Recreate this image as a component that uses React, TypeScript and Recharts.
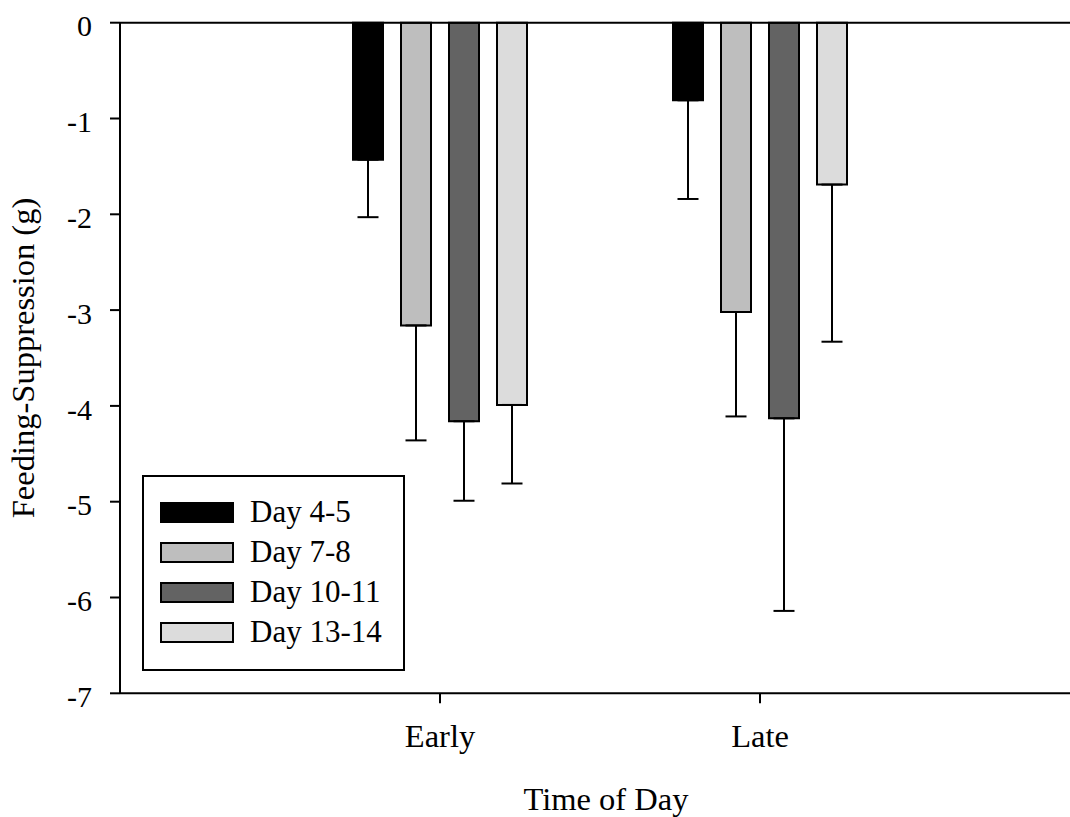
import React from 'react'
import { Bar, BarChart, ErrorBar, Legend, ReferenceLine, XAxis, YAxis } from 'recharts'

const FONT = '"Liberation Serif", "Times New Roman", serif'

// categories and y ticks
const times = ['Early', 'Late']
const yTicks = [0, -1, -2, -3, -4, -5, -6, -7]

// series means (g) and one-sided (downward) SE
const day45 = [-1.43, -0.81]
const day45Err = [0.6, 1.03]
const day78 = [-3.16, -3.02]
const day78Err = [1.2, 1.09]
const day1011 = [-4.16, -4.13]
const day1011Err = [0.83, 2.01]
const day1314 = [-3.99, -1.69]
const day1314Err = [0.82, 1.64]

const data = times.map((time, i) => ({
    time,
    d45: day45[i],
    d45Err: [day45Err[i], 0],
    d78: day78[i],
    d78Err: [day78Err[i], 0],
    d1011: day1011[i],
    d1011Err: [day1011Err[i], 0],
    d1314: day1314[i],
    d1314Err: [day1314Err[i], 0],
}))

const series = [
    { key: 'd45', name: 'Day 4-5', fill: '#000000' },
    { key: 'd78', name: 'Day 7-8', fill: '#bebebe' },
    { key: 'd1011', name: 'Day 10-11', fill: '#636363' },
    { key: 'd1314', name: 'Day 13-14', fill: '#dcdcdc' },
]

const seriesOrder = (name: string) => series.findIndex(s => s.name === name)

const renderLegend = (props: any) => {
    // keep the series order, not alphabetical
    const items = [...(props.payload || [])].sort((a: any, b: any) => seriesOrder(a.value) - seriesOrder(b.value))
    return (
        <div
            style={{
                boxSizing: 'border-box',
                width: 263,
                height: 196,
                border: '2px solid #000',
                background: '#fff',
                padding: '15px 0 0 16px',
                fontFamily: FONT,
                fontSize: 31,
                color: '#000',
            }}
        >
            {items.map((entry: any) => (
                <div key={entry.value} style={{ display: 'flex', alignItems: 'center', height: 40 }}>
                    <span
                        style={{
                            display: 'inline-block',
                            boxSizing: 'border-box',
                            width: 74,
                            height: 21,
                            background: entry.color,
                            border: '2px solid #000',
                        }}
                    />
                    <span style={{ marginLeft: 16, lineHeight: '40px' }}>{entry.value}</span>
                </div>
            ))}
        </div>
    )
}

export default function App() {
    return (
        <div style={{ position: 'absolute', left: 0, top: 0, width: 1070, height: 817, overflow: 'hidden', background: '#fff' }}>
            <BarChart
                width={1090}
                height={817}
                data={data}
                margin={{ top: 22.7, right: 10, bottom: 0, left: 0 }}
                barSize={30}
                barGap={18}
            >
                <XAxis
                    dataKey="time"
                    height={123.7}
                    padding={{ left: 160, right: 160 }}
                    axisLine={{ stroke: '#000', strokeWidth: 2 }}
                    tickLine={{ stroke: '#000', strokeWidth: 2 }}
                    tickSize={10}
                    tickMargin={21}
                    tick={{ fill: '#000', fontSize: 32.5, fontFamily: FONT }}
                    label={{
                        value: 'Time of Day',
                        position: 'insideBottom',
                        offset: 7,
                        dx: 6,
                        style: { fill: '#000', fontSize: 32.5, fontFamily: FONT },
                    }}
                />
                <YAxis
                    width={120}
                    domain={[-7, 0]}
                    ticks={yTicks}
                    interval={0}
                    axisLine={{ stroke: '#000', strokeWidth: 2 }}
                    tickLine={{ stroke: '#000', strokeWidth: 2 }}
                    tickSize={10}
                    tickMargin={18}
                    tick={{ fill: '#000', fontSize: 30, fontFamily: FONT, dy: 3 }}
                    label={{
                        value: 'Feeding-Suppression (g)',
                        angle: -90,
                        position: 'insideLeft',
                        offset: 22,
                        style: { textAnchor: 'middle', fill: '#000', fontSize: 32.5, fontFamily: FONT },
                    }}
                />
                <ReferenceLine y={0} stroke="#000" strokeWidth={2} />
                <Legend
                    layout="horizontal"
                    verticalAlign="middle"
                    align="center"
                    content={renderLegend}
                    wrapperStyle={{ left: 142, top: 475, width: 263, height: 196 }}
                />
                {series.map(s => (
                    <Bar
                        key={s.key}
                        dataKey={s.key}
                        name={s.name}
                        fill={s.fill}
                        stroke="#000"
                        strokeWidth={2}
                        isAnimationActive={false}
                    >
                        <ErrorBar dataKey={s.key + 'Err'} width={10.5} stroke="#000" strokeWidth={2} direction="y" />
                    </Bar>
                ))}
            </BarChart>
        </div>
    )
}
